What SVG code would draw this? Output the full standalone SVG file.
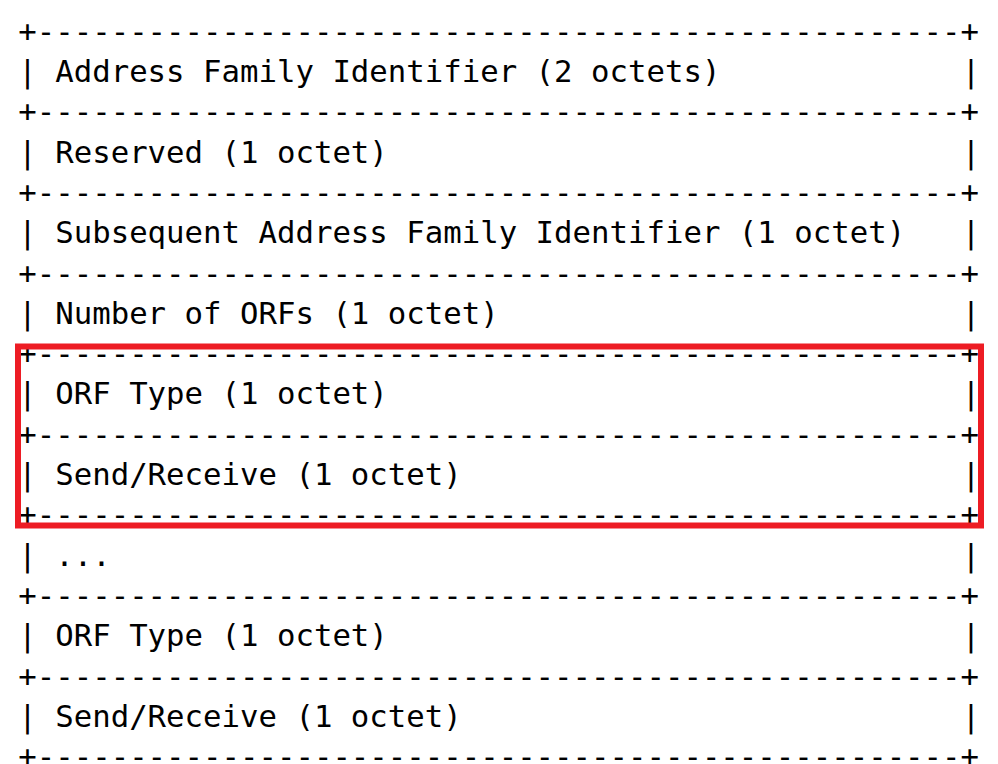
<svg xmlns="http://www.w3.org/2000/svg" width="998" height="764" viewBox="0 0 998 764">
<style>
text{font-family:"DejaVu Sans Mono","Liberation Mono",monospace;font-size:30.7px;fill:#000;}
.b{white-space:pre;}
</style>
<rect width="998" height="764" fill="#fff"/>
<g id="borders">
<text class="b" x="18.3" y="41.7">+--------------------------------------------------+</text>
<text class="b" x="18.3" y="122.3">+--------------------------------------------------+</text>
<text class="b" x="18.3" y="202.9">+--------------------------------------------------+</text>
<text class="b" x="18.3" y="283.5">+--------------------------------------------------+</text>
<text class="b" x="18.3" y="364.1">+--------------------------------------------------+</text>
<text class="b" x="18.3" y="444.7">+--------------------------------------------------+</text>
<text class="b" x="18.3" y="525.3">+--------------------------------------------------+</text>
<text class="b" x="18.3" y="605.9">+--------------------------------------------------+</text>
<text class="b" x="18.3" y="686.5">+--------------------------------------------------+</text>
<text class="b" x="18.3" y="767.1">+--------------------------------------------------+</text>
</g>
<g id="afi"><text x="18.3" y="82">| Address Family Identifier (2 octets)</text><text x="961.8" y="82">|</text></g>
<g id="reserved"><text x="18.3" y="162.6">| Reserved (1 octet)</text><text x="961.8" y="162.6">|</text></g>
<g id="safi"><text x="18.3" y="243.2">| Subsequent Address Family Identifier (1 octet)</text><text x="961.8" y="243.2">|</text></g>
<g id="num-orfs"><text x="18.3" y="323.8">| Number of ORFs (1 octet)</text><text x="961.8" y="323.8">|</text></g>
<g id="orf-type-1"><text x="18.3" y="404.4">| ORF Type (1 octet)</text><text x="961.8" y="404.4">|</text></g>
<g id="send-receive-1"><text x="18.3" y="485">| Send/Receive (1 octet)</text><text x="961.8" y="485">|</text></g>
<g id="ellipsis"><text x="18.3" y="565.6">| ...</text><text x="961.8" y="565.6">|</text></g>
<g id="orf-type-n"><text x="18.3" y="646.2">| ORF Type (1 octet)</text><text x="961.8" y="646.2">|</text></g>
<g id="send-receive-n"><text x="18.3" y="726.8">| Send/Receive (1 octet)</text><text x="961.8" y="726.8">|</text></g>
<g id="highlight"><rect x="18" y="346.5" width="963" height="179" fill="none" stroke="#ED1C24" stroke-width="6"/></g>
</svg>
